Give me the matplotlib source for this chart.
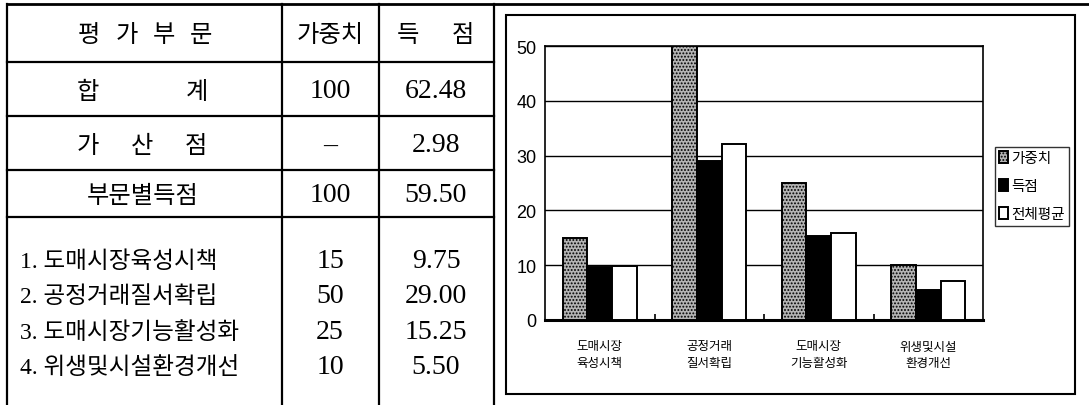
import numpy as np
import matplotlib
matplotlib.use("Agg")
import matplotlib.pyplot as plt
from matplotlib.patches import Rectangle

# ---------------- data ----------------
categories = ['도매시장\n육성시책', '공정거래\n질서확립', '도매시장\n기능활성화', '위생및시설\n환경개선']
weights = [15, 50, 25, 10]           # 가중치
scores = [9.75, 29.00, 15.25, 5.50]  # 득점
overall_avg = [9.9, 32.1, 15.8, 7.1] # 전체평균
series_names = ['가중치', '득점', '전체평균']
yticks = [0, 10, 20, 30, 40, 50]

table_header = ['평가부문', '가중치', '득점']
summary_labels = ['합계', '가산점', '부문별득점']
summary_weights = ['100', '–', '100']
summary_scores = ['62.48', '2.98', '59.50']
list_labels = ['1. 도매시장육성시책', '2. 공정거래질서확립', '3. 도매시장기능활성화', '4. 위생및시설환경개선']

KR = ['Noto Sans CJK KR', 'DejaVu Sans']
SERIF_KR = ['Liberation Serif', 'Noto Sans CJK KR']

W, H = 1089, 406
fig = plt.figure(figsize=(W / 100, H / 100), dpi=100)
fig.patch.set_facecolor('white')

# ---------------- table (pixel coordinate overlay) ----------------
ov = fig.add_axes([0, 0, 1, 1])
ov.set_xlim(0, W)
ov.set_ylim(H, 0)
ov.axis('off')

lw_t = 1.6
ov.plot([7, W], [5, 5], color='black', lw=2.0)
for y in [63, 117, 171, 218]:
    ov.plot([7, 494], [y, y], color='black', lw=lw_t)
for x in [7, 282, 379, 494]:
    ov.plot([x, x], [5, H], color='black', lw=lw_t)

def spread(text, x0, x1, y, size):
    n = len(text)
    xs = np.linspace(x0, x1, n) if n > 1 else [0.5 * (x0 + x1)]
    for ch, x in zip(text, xs):
        ov.text(x, y, ch, ha='center', va='center', fontsize=size, family=KR)

kr_size = 17.5
num_size = 20
c2, c3 = 330, 436

# header
spread(table_header[0], 89, 201, 35, kr_size)
ov.text(c2, 35, table_header[1], ha='center', va='center', fontsize=kr_size, family=KR)
spread(table_header[2], 408, 463, 35, kr_size)

# summary rows
row_y = [92, 146, 196]
spread(summary_labels[0], 88, 197, row_y[0], kr_size)
spread(summary_labels[1], 88, 196, row_y[1], kr_size)
ov.text(143, row_y[2], summary_labels[2], ha='center', va='center', fontsize=kr_size, family=KR)
for y, wv, sv in zip(row_y, summary_weights, summary_scores):
    ov.text(c2, y, wv, ha='center', va='center', fontsize=num_size, family=SERIF_KR)
    ov.text(c3, y, sv, ha='center', va='center', fontsize=num_size, family=SERIF_KR)

# list rows
list_y = [262, 297, 333, 368]
for y, lab, wv, sv in zip(list_y, list_labels, weights, scores):
    ov.text(20, y, lab, ha='left', va='center', fontsize=17, family=SERIF_KR)
    ov.text(c2, y, f'{wv}', ha='center', va='center', fontsize=num_size, family=SERIF_KR)
    ov.text(c3, y, f'{sv:.2f}', ha='center', va='center', fontsize=num_size, family=SERIF_KR)

# outer chart box
ov.add_patch(Rectangle((506, 16), 1075 - 506, 395 - 16, fill=False, ec='black', lw=1.5))

# ---------------- bar chart ----------------
left, right, top, bottom = 545, 983, 47, 321
ax = fig.add_axes([left / W, 1 - bottom / H, (right - left) / W, (bottom - top) / H])
ax.set_facecolor('white')

x = np.arange(len(categories))
bw = 0.224
plt.rcParams['hatch.linewidth'] = 0.9
b1 = ax.bar(x - bw, weights, bw, facecolor='#b4b4b4', edgecolor='black', hatch='.....', lw=1.4, zorder=3)
b2 = ax.bar(x, scores, bw, facecolor='black', edgecolor='black', lw=1.4, zorder=3)
b3 = ax.bar(x + bw, overall_avg, bw, facecolor='white', edgecolor='black', lw=1.4, zorder=3)

ax.set_xlim(-0.5, len(categories) - 0.5)
ax.set_ylim(0, 50)
ax.set_yticks(yticks)
ax.set_yticklabels([str(v) for v in yticks], fontsize=13, family='Liberation Sans')
ax.tick_params(axis='y', length=0, pad=6)
ax.yaxis.grid(True, color='black', lw=1.0, zorder=1)
ax.set_axisbelow(True)

ax.set_xticks(np.arange(len(categories) - 1) + 0.5)
ax.set_xticklabels([])
ax.tick_params(axis='x', direction='in', length=4, width=1.2, color='black')
for s in ax.spines.values():
    s.set_color('black')
    s.set_linewidth(1.2)
ax.spines['bottom'].set_linewidth(2.2)

tr = ax.get_xaxis_transform()
for i, lab in enumerate(categories):
    l1, l2 = lab.split('\n')
    ax.text(i, -(347 - bottom) / (bottom - top), l1, transform=tr, ha='center', va='center',
            fontsize=9, family=KR)
    ax.text(i, -(364 - bottom) / (bottom - top), l2, transform=tr, ha='center', va='center',
            fontsize=9, family=KR)

leg = fig.legend([b1, b2, b3], series_names, loc='upper left',
                 bbox_to_anchor=(995 / W, 1 - 148 / H), prop={'family': KR, 'size': 10.5},
                 frameon=True, fancybox=False, edgecolor='black', handlelength=0.6,
                 handleheight=0.9, handletextpad=0.2, borderpad=0.3, labelspacing=0.95,
                 borderaxespad=0)
leg.get_frame().set_linewidth(1.0)

fig.savefig('out.png', dpi=100, facecolor='white')
